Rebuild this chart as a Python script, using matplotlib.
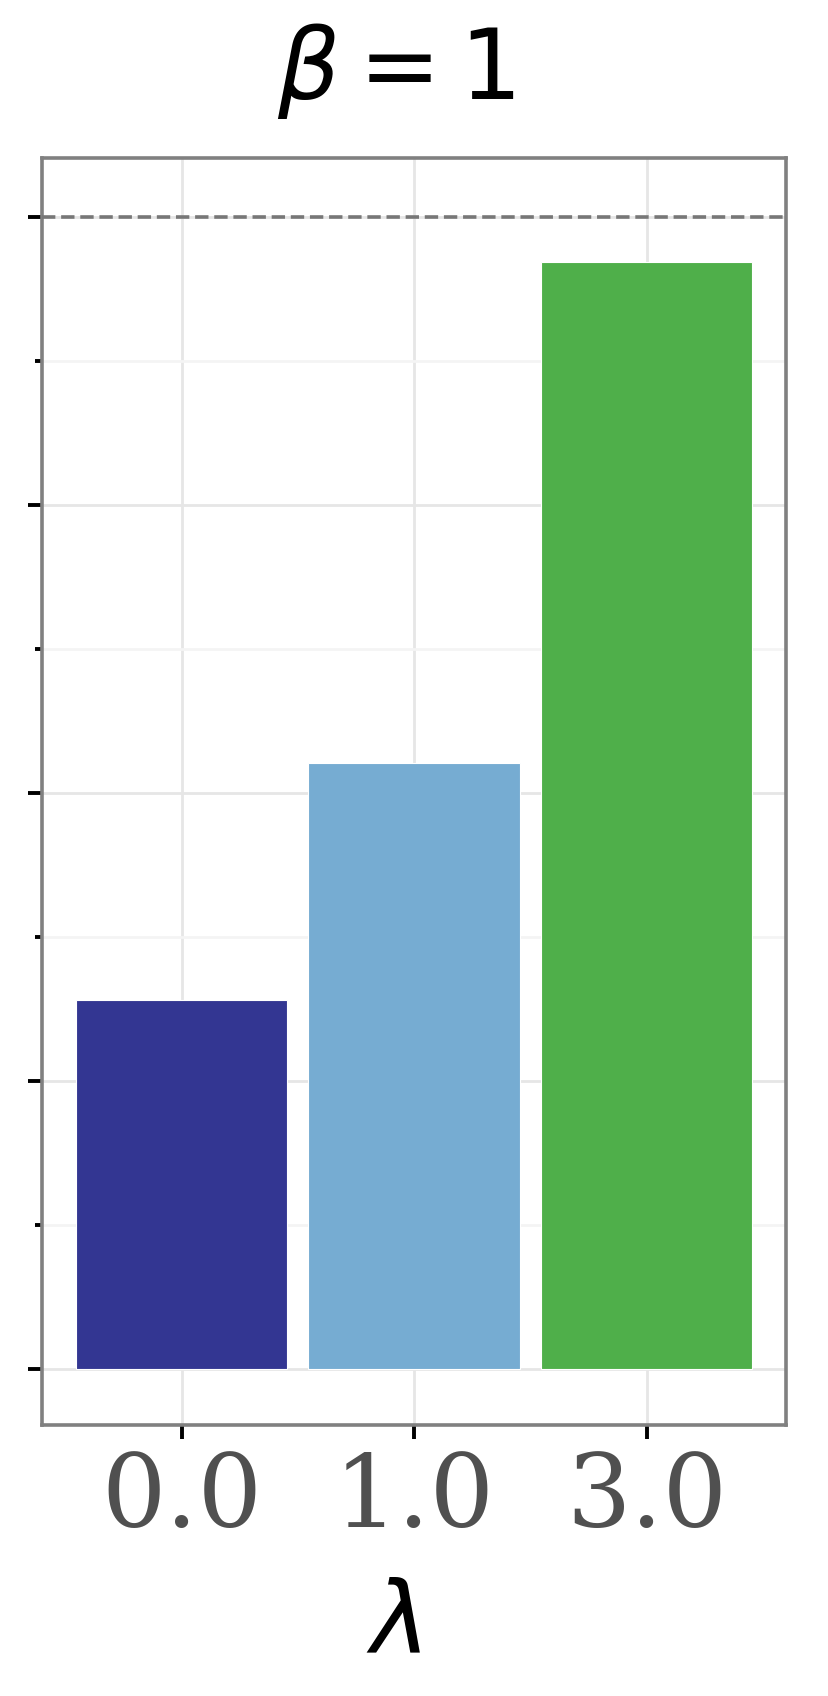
import matplotlib
matplotlib.use("Agg")
import matplotlib.pyplot as plt
from matplotlib.ticker import MultipleLocator, NullFormatter

# Data
lambdas = ["0.0", "1.0", "3.0"]
values = [0.320, 0.526, 0.961]
bar_colors = ["#333692", "#76acd2", "#4faf4a"]
reference_level = 1.0

fig = plt.figure(figsize=(4.145, 8.48), dpi=200)
ax = fig.add_axes([0.0507, 0.1598, 0.8976, 0.7470])

x = range(len(lambdas))
ax.bar(x, values, width=0.91, color=bar_colors, edgecolor="white", linewidth=0.4, zorder=3)
ax.axhline(reference_level, color="#777777", linestyle="--", linewidth=1.3, zorder=4)

ax.set_xlim(-0.6, 2.6)
ax.set_ylim(-0.049, 1.051)
ax.set_xticks(list(x))
ax.set_xticklabels(lambdas)
ax.yaxis.set_major_locator(MultipleLocator(0.25))
ax.yaxis.set_minor_locator(MultipleLocator(0.125))
ax.yaxis.set_major_formatter(NullFormatter())

ax.grid(True, which="major", color="#e6e6e6", linewidth=1.0, zorder=0)
ax.grid(True, which="minor", axis="y", color="#f4f4f4", linewidth=1.0, zorder=0)
ax.set_axisbelow(True)

for s in ax.spines.values():
    s.set_color("#808080")
    s.set_linewidth(1.3)

ax.tick_params(axis="both", which="major", direction="out", length=5.2, width=1.4, color="black")
ax.tick_params(axis="y", which="minor", direction="out", length=2.4, width=1.4, color="black")
ax.tick_params(axis="x", labelsize=36.5, labelcolor="#505050", pad=4)
for lab in ax.get_xticklabels():
    lab.set_fontfamily("DejaVu Serif")

ax.set_xlabel(r"$\lambda$", fontsize=36, labelpad=4)
ax.xaxis.set_label_coords(0.473, -0.12, transform=ax.transAxes)
ax.xaxis.label.set_va("top")
ax.text(0.476, 1.029, r"$\beta = 1$", transform=ax.transAxes, fontsize=35.2,
        ha="center", va="bottom")

fig.savefig("out.png", dpi=200)
